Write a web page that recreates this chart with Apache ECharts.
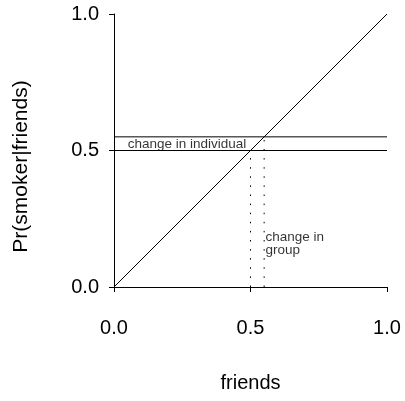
<!DOCTYPE html>
<html>
<head>
<meta charset="utf-8">
<script src="https://cdn.jsdelivr.net/npm/echarts@6/dist/echarts.min.js"></script>
<style>
  html, body { margin: 0; padding: 0; background: #fff; }
  #chart { width: 405px; height: 401px; }
</style>
</head>
<body>
<div id="chart"></div>
<script>
// Share of friends who smoke vs. probability that an individual smokes
var diagonal = [[0, 0], [1, 1]];
var levelBefore = 0.5;
var levelAfter = 0.55;
var groupBefore = 0.5;
var groupAfter = 0.55;
var tickValues = [0, 0.5, 1];
var notes = [
  { text: 'change in individual', at: [0.05, 0.5], valign: 'bottom' },
  { text: 'change in\ngroup', at: [0.555, 0.16], valign: 'middle' }
];

var FONT = 'Liberation Sans, Arial, sans-serif';

function fmt(v) { return v.toFixed(1); }

var solid = { color: '#000', width: 1 };
var dotted = { color: '#000', width: 1, type: [1.5, 7.6] };

function lineSeries(data, style) {
  return {
    type: 'line', data: data, symbol: 'none', silent: true,
    lineStyle: style, animation: false, z: 3
  };
}

var chart = echarts.init(document.getElementById('chart'), null, { renderer: 'canvas' });

chart.setOption({
  animation: false,
  backgroundColor: '#fff',
  grid: { left: 114, right: 18, top: 14, bottom: 114, containLabel: false },
  xAxis: {
    type: 'value', min: 0, max: 1, interval: 0.5,
    name: 'friends', nameLocation: 'middle', nameGap: 86,
    nameTextStyle: { fontFamily: FONT, fontSize: 20, color: '#000' },
    axisLine: { show: true, onZero: false, lineStyle: { color: '#000', width: 1 } },
    axisTick: { show: true, length: 5, lineStyle: { color: '#000' } },
    axisLabel: { margin: 31, fontFamily: FONT, fontSize: 20, color: '#000', formatter: fmt,
                 showMinLabel: true, showMaxLabel: true },
    splitLine: { show: false }
  },
  yAxis: {
    type: 'value', min: 0, max: 1, interval: 0.5,
    name: 'Pr(smoker|friends)', nameLocation: 'middle', nameGap: 82, nameRotate: 90,
    nameTextStyle: { fontFamily: FONT, fontSize: 21, color: '#000', padding: [0, 32, 0, 0] },
    axisLine: { show: true, onZero: false, lineStyle: { color: '#000', width: 1 } },
    axisTick: { show: true, length: 5, lineStyle: { color: '#000' } },
    axisLabel: { margin: 15, fontFamily: FONT, fontSize: 20, color: '#000', formatter: fmt,
                 showMinLabel: true, showMaxLabel: true },
    splitLine: { show: false }
  },
  series: [
    lineSeries(diagonal, solid),
    lineSeries([[0, levelBefore], [1, levelBefore]], solid),
    lineSeries([[0, levelAfter], [1, levelAfter]], solid),
    lineSeries([[groupBefore, 0], [groupBefore, levelBefore]], dotted),
    lineSeries([[groupAfter, 0], [groupAfter, levelAfter]], dotted),
    {
      type: 'scatter', silent: true, symbolSize: 0, z: 4,
      data: notes.map(function (n) {
        return {
          value: n.at,
          label: {
            show: true, formatter: n.text, position: [0, 0],
            align: 'left', verticalAlign: n.valign,
            fontFamily: FONT, fontSize: 13.5, lineHeight: 13, color: '#000'
          }
        };
      })
    }
  ]
});
</script>
</body>
</html>
